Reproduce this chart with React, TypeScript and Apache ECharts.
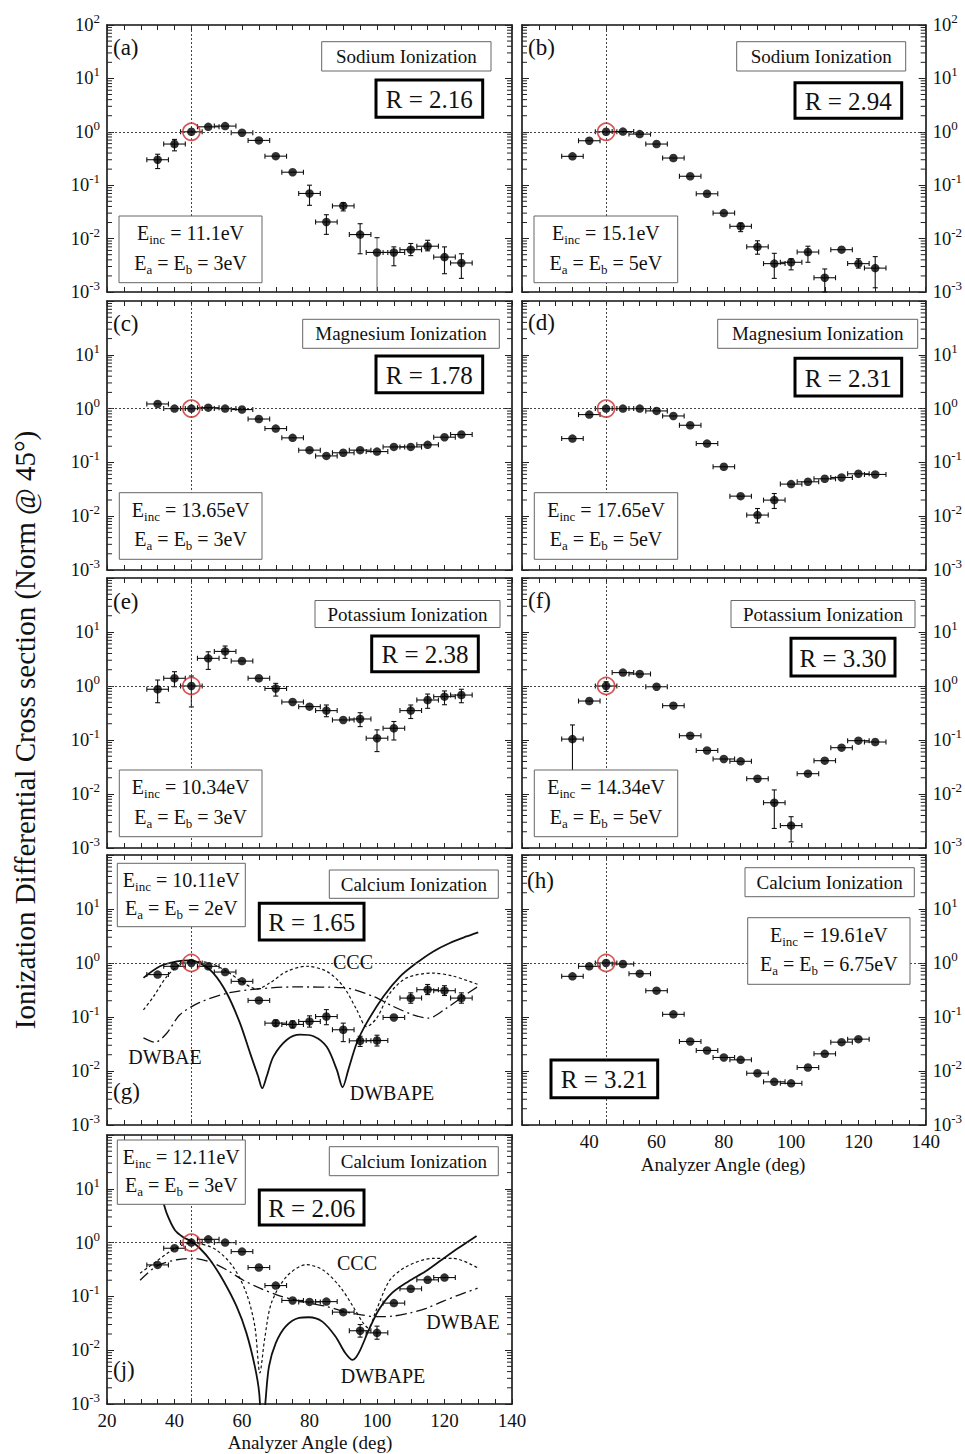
import React, { useEffect, useRef } from "react";
import * as echarts from "echarts";

const FONT = "'Liberation Serif', 'DejaVu Serif', 'Times New Roman', serif";

// ---------- angles ----------
const ANGLES_19 = [35, 40, 45, 50, 55, 60, 65, 70, 75, 80, 85, 90, 95, 100, 105, 110, 115, 120, 125];
const ANGLES_18 = [35, 40, 45, 50, 55, 60, 65, 70, 75, 80, 85, 90, 95, 100, 105, 110, 115, 120];

// ---------- (a) Sodium 11.1 eV ----------
const aY = [0.30, 0.59, 1.0, 1.24, 1.28, 0.96, 0.69, 0.35, 0.175, 0.070, 0.0205, 0.041, 0.0119, 0.0055, 0.0055, 0.0062, 0.0072, 0.0045, 0.0035];
const aLo = [0.205, 0.44, null, null, null, null, null, null, null, 0.042, 0.012, 0.033, 0.0052, 0.0005, 0.0031, 0.0048, 0.0059, 0.0022, 0.0018];
const aHi = [0.38, 0.72, null, null, null, null, null, null, null, 0.10, 0.028, 0.047, 0.019, 0.0104, 0.0070, 0.0081, 0.0093, 0.0070, 0.0052];

// ---------- (b) Sodium 15.1 eV ----------
const bY = [0.347, 0.68, 1.0, 1.01, 0.905, 0.59, 0.323, 0.147, 0.069, 0.030, 0.017, 0.0070, 0.0034, 0.0036, 0.0056, 0.00185, 0.0062, 0.0034, 0.0028];
const bLo = [null, null, null, null, null, null, null, null, null, null, 0.0135, 0.0051, 0.0018, 0.0026, 0.0036, 0.0010, null, 0.0028, 0.0012];
const bHi = [null, null, null, null, null, null, null, null, null, null, 0.0195, 0.0091, 0.0053, 0.0042, 0.0072, 0.0027, null, 0.0042, 0.0046];

// ---------- (c) Magnesium 13.65 eV ----------
const cY = [1.22, 1.0, 1.0, 1.04, 1.0, 0.96, 0.64, 0.425, 0.286, 0.169, 0.132, 0.151, 0.169, 0.159, 0.194, 0.194, 0.212, 0.294, 0.33];
const cLo = [null, null, null, null, null, null, null, null, null, null, null, null, null, null, null, null, null, null, null];
const cHi = [null, null, null, null, null, null, null, null, null, null, null, null, null, null, null, null, null, null, null];

// ---------- (d) Magnesium 17.65 eV ----------
const dY = [0.277, 0.774, 1.0, 1.0, 1.0, 0.905, 0.73, 0.49, 0.224, 0.083, 0.0236, 0.0105, 0.0199, 0.0395, 0.0436, 0.0496, 0.0525, 0.0614, 0.0597];
const dLo = [null, null, null, null, null, null, null, null, null, null, null, 0.0075, 0.0139, null, null, null, null, null, null];
const dHi = [null, null, null, null, null, null, null, null, null, null, null, 0.0139, 0.0264, null, null, null, null, null, null];

// ---------- (e) Potassium 10.34 eV ----------
const eY = [0.87, 1.39, 1.0, 3.25, 4.37, 2.9, 1.39, 0.9, 0.506, 0.415, 0.35, 0.235, 0.245, 0.108, 0.165, 0.35, 0.55, 0.635, 0.68];
const eLo = [0.49, 0.97, 0.41, 2.03, 3.25, null, null, 0.65, null, null, 0.27, null, 0.177, 0.061, 0.10, 0.25, 0.386, 0.45, 0.49];
const eHi = [1.29, 1.84, 1.53, 4.3, 5.5, null, null, 1.12, null, null, 0.445, null, 0.32, 0.154, 0.22, 0.445, 0.71, 0.81, 0.87];

// ---------- (f) Potassium 14.34 eV ----------
const fY = [0.104, 0.527, 1.0, 1.77, 1.67, 0.97, 0.432, 0.12, 0.064, 0.0445, 0.0403, 0.0192, 0.0069, 0.0026, 0.0238, 0.0414, 0.0721, 0.0972, 0.0918];
const fLo = [0.005, null, 0.79, null, null, null, null, null, null, null, null, null, 0.0023, 0.0013, null, null, null, null, null];
const fHi = [0.19, null, 1.2, null, null, null, null, null, null, null, null, null, 0.0119, 0.0038, null, null, null, null, null];

// ---------- (g) Calcium 10.11 eV ----------
const gY = [0.61, 0.867, 1.0, 0.867, 0.68, 0.457, 0.203, 0.077, 0.0728, 0.0828, 0.102, 0.058, 0.0362, 0.0367, 0.098, 0.224, 0.32, 0.307, 0.224];
const gLo = [null, null, null, null, null, null, null, 0.068, 0.063, 0.065, 0.072, 0.035, 0.0285, 0.029, null, 0.18, 0.26, 0.25, 0.18];
const gHi = [null, null, null, null, null, null, null, 0.088, 0.085, 0.105, 0.137, 0.077, 0.044, 0.046, null, 0.28, 0.40, 0.38, 0.28];
// theory curves (g)
const gPeX = [30.8, 35.7, 40.7, 44.6, 47.5, 51.5, 55.5, 59.4, 62.4, 64.8, 66.0, 67.3, 69.3, 73.3, 77.2, 81.2, 85.1, 88.1, 89.8, 91.5, 94.0, 96.9, 101.9, 106.8, 111.7, 116.7, 121.6, 126.5, 130];
const gPeY = [0.53, 0.87, 1.07, 1.12, 1.0, 0.65, 0.275, 0.077, 0.0214, 0.0079, 0.0048, 0.0079, 0.0185, 0.038, 0.047, 0.044, 0.028, 0.0105, 0.005, 0.0105, 0.033, 0.077, 0.24, 0.56, 1.0, 1.64, 2.35, 3.1, 3.7];
const gCccX = [30.8, 33.8, 37.7, 41.6, 45.6, 50.5, 55.5, 60.4, 64.4, 68.3, 73.3, 79.1, 85.1, 90.0, 94.0, 96.9, 99.9, 103.8, 108.8, 116.7, 122.6, 130];
const gCccY = [0.136, 0.24, 0.56, 0.93, 1.07, 1.0, 0.7, 0.43, 0.33, 0.43, 0.7, 0.87, 0.7, 0.37, 0.136, 0.066, 0.095, 0.275, 0.53, 0.65, 0.57, 0.4];
const gAeX = [30.8, 34.2, 37.7, 41.6, 47.5, 55.5, 64.4, 75.2, 90, 98.9, 104.8, 110.7, 115.2, 120.6, 125.5, 130];
const gAeY = [0.041, 0.034, 0.05, 0.11, 0.186, 0.275, 0.33, 0.36, 0.35, 0.24, 0.157, 0.11, 0.095, 0.146, 0.24, 0.37];

// ---------- (h) Calcium 19.61 eV ----------
const hY = [0.566, 0.867, 1.0, 0.958, 0.634, 0.307, 0.112, 0.0352, 0.024, 0.0178, 0.0161, 0.0091, 0.0063, 0.0059, 0.0116, 0.0208, 0.0342, 0.0389];
const hLo = [null, null, null, null, null, null, null, null, null, null, null, null, null, null, null, null, null, null];
const hHi = [null, null, null, null, null, null, null, null, null, null, null, null, null, null, null, null, null, null];

// ---------- (j) Calcium 12.11 eV ----------
const jY = [0.385, 0.785, 1.0, 1.15, 1.0, 0.68, 0.344, 0.159, 0.084, 0.079, 0.080, 0.051, 0.023, 0.021, 0.075, 0.138, 0.203, 0.224];
const jLo = [null, null, null, null, null, null, null, null, null, null, null, null, 0.0175, 0.016, null, null, null, null];
const jHi = [null, null, null, null, null, null, null, null, null, null, null, null, 0.030, 0.028, null, null, null, null];
// theory curves (j)
const jPeX = [30, 33, 36.0, 37.7, 40.1, 42.6, 45.1, 47.5, 50.5, 54.4, 58.4, 61.3, 63.8, 65.1, 66.0, 67.0, 68.0, 70.0, 72.9, 76.9, 79.8, 83.8, 87.7, 90.6, 92.8, 94.6, 97.6, 100.5, 104.4, 109.3, 114.3, 119.2, 124.1, 129.5];
const jPeY = [60, 20, 7.7, 3.5, 1.72, 1.26, 1.05, 0.785, 0.48, 0.2, 0.065, 0.021, 0.005, 0.0016, 0.0002, 0.0012, 0.005, 0.0135, 0.0275, 0.04, 0.041, 0.034, 0.018, 0.0089, 0.0066, 0.0089, 0.024, 0.056, 0.115, 0.19, 0.29, 0.48, 0.79, 1.33];
const jCccX = [29.8, 33.8, 39.7, 44.6, 47.5, 52.4, 57.3, 61.3, 63.8, 65.3, 66.7, 68.7, 73.2, 79.1, 84.0, 89.0, 92.9, 95.9, 97.4, 99.8, 103.8, 108.8, 116.6, 122.6, 130];
const jCccY = [0.27, 0.41, 0.75, 0.97, 0.95, 0.73, 0.36, 0.115, 0.028, 0.0038, 0.016, 0.075, 0.234, 0.39, 0.31, 0.152, 0.065, 0.032, 0.026, 0.056, 0.2, 0.36, 0.51, 0.51, 0.335];
const jAeX = [29.8, 34.8, 40.7, 45.6, 50.5, 55.5, 60.4, 65.3, 70.3, 75.2, 80.1, 85.1, 90.0, 94.9, 99.8, 104.7, 109.7, 114.6, 119.5, 124.4, 129.8];
const jAeY = [0.2, 0.37, 0.48, 0.51, 0.44, 0.31, 0.2, 0.142, 0.107, 0.087, 0.075, 0.065, 0.053, 0.046, 0.042, 0.043, 0.049, 0.06, 0.081, 0.107, 0.142];

// ---------- texts ----------
const Y_TITLE = "Ionization Differential Cross section (Norm @ 45°)";
const X_TITLE = "Analyzer Angle (deg)";

const PANELS = [
  { id: "a", col: 0, row: 0, xs: ANGLES_19, ys: aY, lo: aLo, hi: aHi, title: "Sodium Ionization", r: "R = 2.16", einc: "11.1eV", eab: "3eV" },
  { id: "b", col: 1, row: 0, xs: ANGLES_19, ys: bY, lo: bLo, hi: bHi, title: "Sodium Ionization", r: "R = 2.94", einc: "15.1eV", eab: "5eV" },
  { id: "c", col: 0, row: 1, xs: ANGLES_19, ys: cY, lo: cLo, hi: cHi, title: "Magnesium Ionization", r: "R = 1.78", einc: "13.65eV", eab: "3eV" },
  { id: "d", col: 1, row: 1, xs: ANGLES_19, ys: dY, lo: dLo, hi: dHi, title: "Magnesium Ionization", r: "R = 2.31", einc: "17.65eV", eab: "5eV" },
  { id: "e", col: 0, row: 2, xs: ANGLES_19, ys: eY, lo: eLo, hi: eHi, title: "Potassium Ionization", r: "R = 2.38", einc: "10.34eV", eab: "3eV" },
  { id: "f", col: 1, row: 2, xs: ANGLES_19, ys: fY, lo: fLo, hi: fHi, title: "Potassium Ionization", r: "R = 3.30", einc: "14.34eV", eab: "5eV" },
  { id: "g", col: 0, row: 3, xs: ANGLES_19, ys: gY, lo: gLo, hi: gHi, title: "Calcium Ionization", r: "R = 1.65", einc: "10.11eV", eab: "2eV" },
  { id: "h", col: 1, row: 3, xs: ANGLES_18, ys: hY, lo: hLo, hi: hHi, title: "Calcium Ionization", r: "R = 3.21", einc: "19.61eV", eab: "6.75eV" },
  { id: "j", col: 0, row: 4, xs: ANGLES_18, ys: jY, lo: jLo, hi: jHi, title: "Calcium Ionization", r: "R = 2.06", einc: "12.11eV", eab: "3eV" },
];

const CURVES: Record<string, any[]> = {
  g: [
    { name: "DWBAPE", xs: gPeX, ys: gPeY, kind: "solid" },
    { name: "CCC", xs: gCccX, ys: gCccY, kind: "dot" },
    { name: "DWBAE", xs: gAeX, ys: gAeY, kind: "dashdot" },
  ],
  j: [
    { name: "DWBAPE", xs: jPeX, ys: jPeY, kind: "solid" },
    { name: "CCC", xs: jCccX, ys: jCccY, kind: "dot" },
    { name: "DWBAE", xs: jAeX, ys: jAeY, kind: "dashdot" },
  ],
};

// ---------- layout (pixels) ----------
const COL_LEFT = [107, 522];
const COL_W = [405, 406];
const ROW_TOP = [25, 301, 578, 855, 1135];
const ROW_H = [267, 269, 270, 270, 269];

const LAYOUT: Record<string, any> = {
  a: { label: [113, 47], title: [321.7, 41.7, 169.3, 29.3], rBox: [376, 80, 106.7, 37.3], eBox: [119, 216, 143, 66.7] },
  b: { label: [528, 47], title: [736.7, 41.7, 169, 29.3], rBox: [795, 82.7, 106.7, 35.6], eBox: [534, 216, 143.7, 66.7] },
  c: { label: [113, 323], title: [302.7, 319.3, 196.6, 29], rBox: [376, 356, 106.7, 36.7], eBox: [119.3, 492.7, 142.7, 66.6] },
  d: { label: [528, 322], title: [717.7, 319.3, 200, 29], rBox: [795, 358.3, 106.7, 37.7], eBox: [534.3, 492.7, 143.4, 66.6] },
  e: { label: [113, 601], title: [315, 600.5, 185, 27], rBox: [371.7, 636, 106.6, 35.7], eBox: [119.3, 770, 142.7, 66.7] },
  f: { label: [528, 600], title: [731, 600.5, 184, 27], rBox: [791, 638.3, 104, 37.7], eBox: [534.3, 770, 143.4, 66.7] },
  g: { label: [113, 1091], title: [329.3, 870, 169, 28.3], rBox: [259.3, 903.3, 104.7, 36.7], eBox: [117.3, 863.3, 128, 63.4] },
  h: { label: [527, 880], title: [745, 867.7, 169.3, 29], rBox: [551, 1060, 106.7, 37.7], eBox: [747.7, 917.7, 162.3, 66.6] },
  j: { label: [113, 1369], title: [329.3, 1146.7, 169, 29], rBox: [259.3, 1190, 104.7, 35], eBox: [117.3, 1140, 128, 64.3] },
};

const CURVE_LABELS: Record<string, any> = {
  g: { CCC: [353, 962], DWBAE: [165, 1057], DWBAPE: [392, 1093] },
  j: { CCC: [357, 1263], DWBAE: [463, 1322], DWBAPE: [383, 1376] },
};

const XERR = 3.2;
const INK = "#111";

// log minor tick positions (axis decoration)
const MINOR_TICKS: number[] = [];
for (let k = -3; k <= 1; k++) {
  for (let m = 2; m <= 9; m++) MINOR_TICKS.push(Number((m * Math.pow(10, k)).toPrecision(3)));
}

const errRender = (_params: any, api: any) => {
  const x = api.value(0) as number;
  const y = api.value(1) as number;
  const lo = api.value(2) as number;
  const hi = api.value(3) as number;
  const st = { stroke: INK, lineWidth: 1.1 };
  const l = api.coord([x - XERR, y]);
  const r = api.coord([x + XERR, y]);
  const ch: any[] = [
    { type: "line", shape: { x1: l[0], y1: l[1], x2: r[0], y2: r[1] }, style: st },
    { type: "line", shape: { x1: l[0], y1: l[1] - 2.5, x2: l[0], y2: l[1] + 2.5 }, style: st },
    { type: "line", shape: { x1: r[0], y1: r[1] - 2.5, x2: r[0], y2: r[1] + 2.5 }, style: st },
  ];
  if (isFinite(lo) && isFinite(hi) && lo > 0 && hi > 0) {
    const clamped = lo < 0.001;
    const t = api.coord([x, Math.min(hi, 100)]);
    const b = api.coord([x, Math.max(lo, 0.001)]);
    ch.push({ type: "line", shape: { x1: t[0], y1: t[1], x2: b[0], y2: b[1] }, style: clamped ? { stroke: "#666", lineWidth: 1 } : st });
    ch.push({ type: "line", shape: { x1: t[0] - 2.5, y1: t[1], x2: t[0] + 2.5, y2: t[1] }, style: st });
    if (!clamped) ch.push({ type: "line", shape: { x1: b[0] - 2.5, y1: b[1], x2: b[0] + 2.5, y2: b[1] }, style: st });
  }
  return { type: "group", children: ch };
};

const minorRender = (_params: any, api: any) => {
  const v = api.value(1) as number;
  const a = api.coord([20, v]);
  const b = api.coord([140, v]);
  const st = { stroke: "#222", lineWidth: 1 };
  return {
    type: "group",
    children: [
      { type: "line", shape: { x1: a[0], y1: a[1], x2: a[0] + 5, y2: a[1] }, style: st },
      { type: "line", shape: { x1: b[0] - 5, y1: b[1], x2: b[0], y2: b[1] }, style: st },
    ],
  };
};

const supRich = {
  b: { fontSize: 18.5, fontFamily: FONT, color: INK, lineHeight: 26 },
  s: { fontSize: 13, fontFamily: FONT, color: INK, lineHeight: 13, verticalAlign: "top" },
};

const subRich = (fs: number) => ({
  m: { fontSize: fs, fontFamily: FONT, fill: INK, color: INK, lineHeight: 26 },
  s: { fontSize: 13, fontFamily: FONT, fill: INK, color: INK, lineHeight: 13, verticalAlign: "bottom" },
});

function rect(x: number, y: number, w: number, h: number, lw: number, stroke: string) {
  return { type: "rect", z: 50, silent: true, shape: { x, y, width: w, height: h }, style: { fill: "#fff", stroke, lineWidth: lw } };
}

function text(x: number, y: number, str: string, fontSize: number, align = "center", extra: any = {}) {
  return {
    type: "text",
    z: 51,
    silent: true,
    x,
    y,
    style: {
      text: str,
      fontSize,
      fontFamily: FONT,
      fill: INK,
      align,
      verticalAlign: "middle",
      textAlign: align,
      textVerticalAlign: "middle",
      ...extra,
    },
  };
}

function buildOption() {
  const grid: any[] = [];
  const xAxis: any[] = [];
  const yAxis: any[] = [];
  const series: any[] = [];
  const graphics: any[] = [];

  PANELS.forEach((p, i) => {
    grid.push({ left: COL_LEFT[p.col], width: COL_W[p.col], top: ROW_TOP[p.row], height: ROW_H[p.row] });
    const showX = p.id === "h" || p.id === "j";
    const axisLine = { onZero: false, lineStyle: { color: INK, width: 1.6 } };
    const xTick = { inside: true, length: 5, lineStyle: { color: "#222", width: 1 } };
    const xCommon = { type: "value", gridIndex: i, min: 20, max: 140, interval: 5, splitLine: { show: false }, axisLine, axisTick: xTick };
    xAxis.push({
      ...xCommon,
      position: "bottom",
      axisLabel: {
        show: showX,
        margin: 7,
        fontSize: 19,
        fontFamily: FONT,
        color: INK,
        formatter: (v: number) => (v % 20 === 0 && !(p.col === 1 && v === 20) ? String(v) : ""),
      },
    });
    xAxis.push({ ...xCommon, position: "top", axisLabel: { show: false } });

    const yTick = { inside: true, length: 7, lineStyle: { color: "#222", width: 1 } };
    const yFmt = (v: number) => {
      const e = Math.round(Math.log10(v));
      if (e === 2 && p.row > 0) return "";
      return `{b|10}{s|${e}}`;
    };
    const yCommon = { type: "log", logBase: 10, gridIndex: i, min: 0.001, max: 100, splitNumber: 5, splitLine: { show: false }, axisLine, axisTick: yTick };
    yAxis.push({ ...yCommon, position: "left", axisLabel: { show: p.col === 0, margin: 7, formatter: yFmt, rich: supRich } });
    yAxis.push({ ...yCommon, position: "right", axisLabel: { show: p.col === 1, margin: 7, formatter: yFmt, rich: supRich } });

    const xi = 2 * i;
    const yi = 2 * i;

    (CURVES[p.id] || []).forEach((c) => {
      const lineStyle: any = { color: INK };
      if (c.kind === "solid") Object.assign(lineStyle, { width: 1.8, type: "solid" });
      if (c.kind === "dot") Object.assign(lineStyle, { width: 1.2, type: [3, 2.5] });
      if (c.kind === "dashdot") Object.assign(lineStyle, { width: 1.3, type: [11, 4, 2, 4] });
      series.push({
        type: "line",
        name: c.name,
        xAxisIndex: xi,
        yAxisIndex: yi,
        data: c.xs.map((x: number, k: number) => [x, c.ys[k]]),
        smooth: 0.3,
        showSymbol: false,
        symbol: "none",
        clip: true,
        silent: true,
        z: 3,
        lineStyle,
      });
    });

    series.push({
      type: "custom",
      xAxisIndex: xi,
      yAxisIndex: yi,
      silent: true,
      z: 3,
      encode: { x: 0, y: 1 },
      data: MINOR_TICKS.map((v) => [20, v]),
      renderItem: minorRender,
    });

    series.push({
      type: "custom",
      xAxisIndex: xi,
      yAxisIndex: yi,
      silent: true,
      z: 4,
      encode: { x: 0, y: 1 },
      data: p.xs.map((x, k) => [x, p.ys[k], p.lo[k], p.hi[k]]),
      renderItem: errRender,
    });

    series.push({
      type: "scatter",
      xAxisIndex: xi,
      yAxisIndex: yi,
      silent: true,
      z: 5,
      symbolSize: 8.5,
      itemStyle: { color: "#000" },
      data: p.xs.map((x, k) => [x, p.ys[k]]),
      markLine: {
        silent: true,
        symbol: "none",
        label: { show: false },
        lineStyle: { color: "#444", width: 1, type: [2, 2] },
        data: [{ xAxis: 45 }, { yAxis: 1 }],
      },
    });

    series.push({
      type: "scatter",
      xAxisIndex: xi,
      yAxisIndex: yi,
      silent: true,
      z: 6,
      symbolSize: 17,
      itemStyle: { color: "rgba(0,0,0,0)", borderColor: "#cc2b2b", borderWidth: 1.7 },
      data: [[45, 1]],
    });

    // annotations
    const L = LAYOUT[p.id];
    graphics.push(text(L.label[0], L.label[1], `(${p.id})`, 23, "left"));
    const [tx, ty, tw, th] = L.title;
    graphics.push(rect(tx, ty, tw, th, 1, "#666"));
    graphics.push(text(tx + tw / 2, ty + th / 2, p.title, 19));
    const [rx, ry, rw, rh] = L.rBox;
    graphics.push(rect(rx, ry, rw, rh, 3, "#000"));
    graphics.push(text(rx + rw / 2, ry + rh / 2 + 1, p.r, 25));
    const [ex, ey, ew, eh] = L.eBox;
    graphics.push(rect(ex, ey, ew, eh, 1, "#666"));
    graphics.push(text(ex + ew / 2, ey + eh * 0.26, `{m|E}{s|inc}{m| = ${p.einc}}`, 20, "center", { rich: subRich(20) }));
    graphics.push(text(ex + ew / 2, ey + eh * 0.7, `{m|E}{s|a}{m| = E}{s|b}{m| = ${p.eab}}`, 20, "center", { rich: subRich(20) }));

    const CL = CURVE_LABELS[p.id];
    if (CL) {
      Object.keys(CL).forEach((k) => graphics.push(text(CL[k][0], CL[k][1], k, 20)));
    }
  });

  // axis titles
  graphics.push(text(723, 1164, X_TITLE, 19));
  graphics.push(text(310, 1442, X_TITLE, 19));
  graphics.push({ ...text(25, 730, Y_TITLE, 29), rotation: Math.PI / 2 });

  return {
    animation: false,
    backgroundColor: "#fff",
    textStyle: { fontFamily: FONT, color: INK },
    grid,
    xAxis,
    yAxis,
    series,
    graphic: { elements: graphics },
  };
}

export default function App() {
  const ref = useRef<HTMLDivElement>(null);
  useEffect(() => {
    document.body.style.margin = "0";
    const chart = echarts.init(ref.current as HTMLDivElement, null, { renderer: "svg" });
    chart.setOption(buildOption() as any);
    return () => chart.dispose();
  }, []);
  return (
    <div
      ref={ref}
      style={{ position: "absolute", left: 0, top: 0, width: 965, height: 1454, background: "#fff" }}
    />
  );
}
